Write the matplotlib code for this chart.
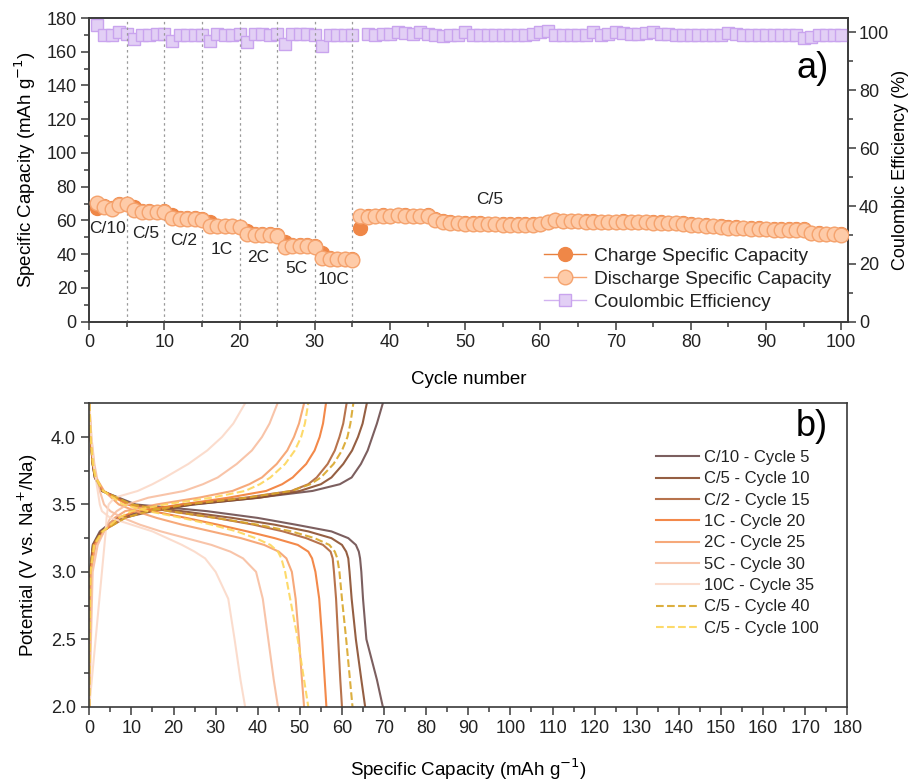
import matplotlib
matplotlib.use("Agg")
import matplotlib.pyplot as plt
from matplotlib.ticker import MultipleLocator
from matplotlib.lines import Line2D

plt.rcParams['font.family'] = ['Liberation Sans', 'DejaVu Sans']

# ---------------- Panel a data ----------------
cycles = list(range(1, 101))
discharge = [70.2, 67.9, 66.9, 69.2, 69.8,
             66.3, 65.3, 65.3, 65.0, 65.3,
             61.3, 61.0, 61.0, 61.0, 60.5,
             56.8, 56.5, 56.5, 56.5, 56.0,
             51.8, 51.5, 51.5, 51.5, 50.8,
             44.5, 45.0, 45.0, 45.0, 44.5,
             37.6, 37.0, 37.0, 37.0, 36.8,
             62.5, 62.3, 62.6, 62.8, 62.6, 63.3, 62.8, 62.6, 62.5, 62.9,
             60.3, 59.3, 58.6, 58.3, 58.2, 58.0, 58.0, 57.8, 57.7, 57.5,
             57.4, 57.5, 57.6, 57.4, 57.8, 58.8, 60.2, 59.6, 59.6, 59.5,
             59.3, 59.2, 59.0, 58.9, 59.0, 59.1, 59.0, 58.8, 58.8, 58.6,
             58.5, 58.4, 58.3, 58.0, 57.6, 57.2, 57.0, 56.6, 56.2, 55.8,
             55.6, 55.4, 55.2, 55.0, 54.8, 54.6, 54.6, 54.5, 54.4, 54.6,
             52.3, 52.0, 51.8, 51.7, 51.5]
charge = [67.3, 68.3, 67.5, 69.5, 70.0,
          68.0, 65.8, 65.6, 65.3, 65.5,
          63.5, 61.5, 61.3, 61.2, 60.8,
          59.0, 57.0, 56.8, 56.8, 56.3,
          53.8, 52.0, 51.8, 51.8, 51.2,
          47.5, 45.5, 45.3, 45.3, 45.0,
          40.5, 37.5, 37.3, 37.3, 37.1,
          55.4, 62.6, 62.9, 63.1, 62.9, 63.5, 63.1, 62.9, 62.8, 63.2,
          60.7, 59.6, 58.9, 58.6, 58.5, 58.3, 58.3, 58.1, 58.0, 57.8,
          57.7, 57.8, 57.9, 57.7, 58.1, 59.1, 60.4, 59.9, 59.9, 59.8,
          59.6, 59.5, 59.3, 59.2, 59.3, 59.4, 59.3, 59.1, 59.1, 58.9,
          58.8, 58.7, 58.6, 58.3, 57.9, 57.5, 57.3, 56.9, 56.5, 56.1,
          55.9, 55.7, 55.5, 55.3, 55.1, 54.9, 54.9, 54.8, 54.7, 55.0,
          52.6, 52.3, 52.1, 52.0, 51.8]
efficiency = [102.7, 99.0, 99.0, 100.0, 99.5,
              97.7, 99.0, 99.0, 99.5, 99.3,
              97.2, 99.0, 99.0, 99.0, 99.0,
              96.9, 99.3, 99.0, 99.0, 99.5,
              96.6, 99.3, 99.3, 99.0, 99.3,
              96.0, 99.3, 99.5, 99.3, 99.0,
              95.2, 99.0, 99.0, 99.0, 99.2,
              113.0, 99.5, 99.0, 99.3, 99.5, 100.2, 99.8, 99.5, 100.0, 99.5,
              99.0, 98.8, 99.2, 99.2, 100.0, 99.2, 99.2, 99.2, 99.2, 99.0,
              99.2, 99.0, 99.2, 99.4, 100.0, 100.6, 99.2, 99.2, 99.2, 99.2,
              99.2, 100.0, 99.2, 99.4, 100.0, 99.8, 99.6, 99.6, 99.8, 100.0,
              99.6, 99.4, 99.2, 99.2, 99.0, 99.0, 99.0, 99.2, 99.2, 99.8,
              99.4, 99.2, 99.2, 99.0, 99.0, 99.2, 99.0, 99.0, 99.0, 98.0,
              98.6, 99.2, 99.2, 99.2, 99.2]

rate_boundaries = [5, 10, 15, 20, 25, 30, 35]
rate_labels = ['C/10', 'C/5', 'C/2', '1C', '2C', '5C', '10C', 'C/5']
rate_label_pos = [(2.4, 55.5), (7.5, 52.4), (12.5, 48.0), (17.6, 42.5),
                  (22.5, 38.2), (27.6, 31.7), (32.5, 25.2), (53.2, 72.2)]

# ---------------- Panel b data ----------------
curve_labels = ['C/10 - Cycle 5', 'C/5 - Cycle 10', 'C/2 - Cycle 15', '1C - Cycle 20',
                '2C - Cycle 25', '5C - Cycle 30', '10C - Cycle 35',
                'C/5 - Cycle 40', 'C/5 - Cycle 100']
curve_colors = ['#6E4E4E', '#8A4E2E', '#B0643A', '#F27C36', '#F6A06C',
                '#F8BEA0', '#FBD9C8', '#D9A62A', '#FDD65A']
curve_styles = ['-', '-', '-', '-', '-', '-', '-', '--', '--']

charge_V = [2.0, 3.0, 3.2, 3.3, 3.4, 3.45, 3.5, 3.55, 3.6, 3.65, 3.7, 3.8, 3.9, 4.0, 4.1, 4.25]
charge_Q = [
    [0, 0.2, 0.8, 2.5, 6.5, 13, 25, 40, 53, 59.5, 62.3, 64.5, 66.1, 67.2, 68.3, 69.7],
    [0, 0.2, 0.9, 2.8, 8, 15, 24.5, 40.5, 50, 55, 57.5, 60.3, 62.4, 63.8, 64.9, 65.9],
    [0, 0.2, 1.0, 3, 8.5, 13.5, 22, 37, 48, 52, 54, 56.6, 58.3, 59.4, 60.3, 61.1],
    [0, 0.3, 1.2, 3.5, 7, 11, 22, 33, 42, 45.8, 48.3, 51.5, 53.5, 54.7, 55.5, 56.2],
    [0, 0.4, 1.5, 3.5, 6, 8.5, 16, 26, 34, 38, 41, 44.5, 47, 48.6, 49.8, 51],
    [0, 0.8, 2.0, 3.5, 5, 6.5, 9, 14, 22.5, 27, 30.5, 35, 38.6, 41, 42.8, 44.7],
    [0, 3.0, 3.6, 3.9, 4.1, 4.3, 4.6, 6, 11.5, 15, 18, 23.5, 28, 31.5, 34.2, 37],
    [0, 0.2, 1.0, 3, 8.5, 14, 23, 37.5, 48, 52.5, 55, 58, 60, 61.3, 62, 62.7],
    [0, 0.3, 1.2, 3.2, 7, 10, 18, 29, 37, 40.5, 43, 46.5, 48.8, 50.3, 51.2, 52],
]
discharge_V = [4.25, 4.0, 3.8, 3.7, 3.6, 3.5, 3.45, 3.4, 3.35, 3.3, 3.25, 3.2, 3.15,
               3.1, 3.0, 2.8, 2.5, 2.2, 2.0]
discharge_Q = [
    [0, 0.3, 0.8, 1.3, 3, 11, 28, 40, 49, 57.5, 61.5, 63.3, 64.0, 64.3, 64.6, 65, 65.8, 68.3, 69.7],
    [0, 0.3, 0.8, 1.3, 3, 10, 22, 34, 44, 52, 57.5, 60, 61, 61.5, 61.8, 62.3, 63.3, 64.6, 65.5],
    [0, 0.3, 0.8, 1.4, 3.2, 10, 19, 30, 39, 46, 51.5, 55.5, 57.3, 57.8, 58.1, 58.6, 59.1, 59.6, 60],
    [0, 0.3, 0.9, 1.5, 3.3, 9, 15, 23, 30.5, 37.5, 44, 49.5, 52, 52.9, 53.7, 54.6, 55.3, 55.9, 56.3],
    [0, 0.4, 1.0, 1.6, 3.5, 7, 11, 16, 22, 29, 36, 41.5, 45, 46.8, 48.1, 49, 49.8, 50.5, 51],
    [0, 0.5, 1.2, 1.8, 2.5, 3.5, 5, 8, 12, 17, 23, 29, 33.5, 36.5, 39.6, 41.2, 42.5, 43.8, 44.8],
    [0, 0.5, 1.0, 1.5, 2.0, 2.5, 3.0, 5, 10, 15, 18.5, 22, 25, 27.5, 30, 33, 34.5, 35.9, 37],
    [0, 0.3, 0.8, 1.4, 3.2, 10, 19, 30, 40, 48, 53.5, 57, 58.3, 58.9, 59.4, 60, 61, 61.9, 62.5],
    [0, 0.3, 0.9, 1.5, 3.3, 8, 14, 22, 29, 35, 39.5, 43, 44.8, 45.6, 46.5, 47.7, 49.5, 51, 52],
]

# ---------------- Figure ----------------
W, H = 914, 780
fig = plt.figure(figsize=(W / 100, H / 100), dpi=100)
spine_c = '#3a3a3a'
tick_fs = 13
lab_fs = 13.5

ax = fig.add_axes([89.3 / W, 1 - 321.7 / H, (848 - 89.3) / W, (321.7 - 18) / H])
ax2 = ax.twinx()

for b in rate_boundaries:
    ax.axvline(b, color='#9a9a9a', ls=(0, (2, 2.5)), lw=0.9, zorder=1)

ce_style = dict(color='#D2B3F0', lw=1.0, marker='s', ms=8.5, mfc='#E2CFF5', mec='#C9A4EE', mew=1.0)
ch_style = dict(color='#E8803E', lw=1.0, marker='o', ms=10, mfc='#EF8747', mec='#EF8747')
dc_style = dict(color='#F6A472', lw=1.0, marker='o', ms=10.5, mfc='#FECBA8', mec='#F5A36E', mew=1.0)

ax2.plot(cycles, efficiency, **{**ce_style, 'ls': 'none'}, zorder=3)
ax.plot(cycles, charge, **{**ch_style, 'ls': 'none'}, zorder=4)
ax.plot(cycles, discharge, **{**dc_style, 'ls': 'none'}, zorder=5)
ax.set_zorder(ax2.get_zorder() + 1)
ax.patch.set_visible(False)

for lab, (xp, yp) in zip(rate_labels, rate_label_pos):
    ax.text(xp, yp, lab, fontsize=12.5, ha='center', va='center', color='#222222', zorder=6)

ax.set_xlim(0, 100.9)
ax.set_ylim(0, 180)
ax2.set_ylim(0, 105)
ax.xaxis.set_major_locator(MultipleLocator(10))
ax.xaxis.set_minor_locator(MultipleLocator(5))
ax.yaxis.set_major_locator(MultipleLocator(20))
ax.yaxis.set_minor_locator(MultipleLocator(10))
ax2.yaxis.set_major_locator(MultipleLocator(20))
ax2.yaxis.set_minor_locator(MultipleLocator(10))
ax.set_xlabel('Cycle number', fontsize=lab_fs, labelpad=14)
ax.set_ylabel('Specific Capacity (mAh g$^{-1}$)', fontsize=lab_fs, labelpad=6)
ax2.set_ylabel('Coulombic Efficiency (%)', fontsize=13, labelpad=2)
for a in (ax, ax2):
    a.tick_params(which='major', direction='out', length=6, width=1.1, color=spine_c,
                  labelsize=tick_fs, labelcolor='#222222', pad=3)
    a.tick_params(which='minor', direction='out', length=3.5, width=1.1, color=spine_c)
    for s in a.spines.values():
        s.set_color(spine_c)
        s.set_linewidth(1.2)
ax.tick_params(axis='y', which='both', right=False)
ax.tick_params(axis='x', which='both', top=False)
ax2.tick_params(axis='y', pad=2)

ax.text(0.975, 0.835, 'a)', transform=ax.transAxes, fontsize=26, ha='right', va='center')
leg_a = [Line2D([], [], **ch_style), Line2D([], [], **dc_style), Line2D([], [], **ce_style)]
ax.legend(leg_a,
          ['Charge Specific Capacity', 'Discharge Specific Capacity', 'Coulombic Efficiency'],
          loc='lower right', bbox_to_anchor=(1.0, -0.02), frameon=False, fontsize=13.8,
          handlelength=2.2, handletextpad=0.4, labelspacing=0.28, labelcolor='#222222')

# ---------------- Panel b ----------------
bx = fig.add_axes([89.3 / W, 1 - 706.7 / H, (847.3 - 89.3) / W, (706.7 - 403.3) / H])
handles = []
for i in range(len(curve_labels)):
    bx.plot(charge_Q[i], charge_V, color=curve_colors[i],
            ls=curve_styles[i], lw=1.5, alpha=0.9)
    h, = bx.plot(discharge_Q[i], discharge_V, color=curve_colors[i],
                 ls=curve_styles[i], lw=1.5, alpha=0.9)
    handles.append(h)
bx.set_xlim(0, 180)
bx.set_ylim(2.0, 4.25)
bx.xaxis.set_major_locator(MultipleLocator(10))
bx.xaxis.set_minor_locator(MultipleLocator(5))
bx.yaxis.set_major_locator(MultipleLocator(0.5))
bx.yaxis.set_minor_locator(MultipleLocator(0.25))
bx.tick_params(which='major', direction='out', length=6, width=1.1, color=spine_c,
               labelsize=tick_fs, labelcolor='#222222')
bx.tick_params(which='minor', direction='out', length=3.5, width=1.1, color=spine_c)
for s in bx.spines.values():
    s.set_color(spine_c)
    s.set_linewidth(1.2)
bx.set_xlabel('Specific Capacity (mAh g$^{-1}$)', fontsize=lab_fs, labelpad=14)
bx.set_ylabel('Potential (V vs. Na$^{+}$/Na)', fontsize=lab_fs, labelpad=8)
bx.text(0.975, 0.925, 'b)', transform=bx.transAxes, fontsize=26, ha='right', va='center')
bx.legend(handles, curve_labels, loc='upper left', bbox_to_anchor=(0.728, 0.895),
          frameon=False, fontsize=12, handlelength=2.6, handletextpad=0.3,
          labelspacing=0.38, labelcolor='#222222')

fig.savefig('out.png', dpi=100)
